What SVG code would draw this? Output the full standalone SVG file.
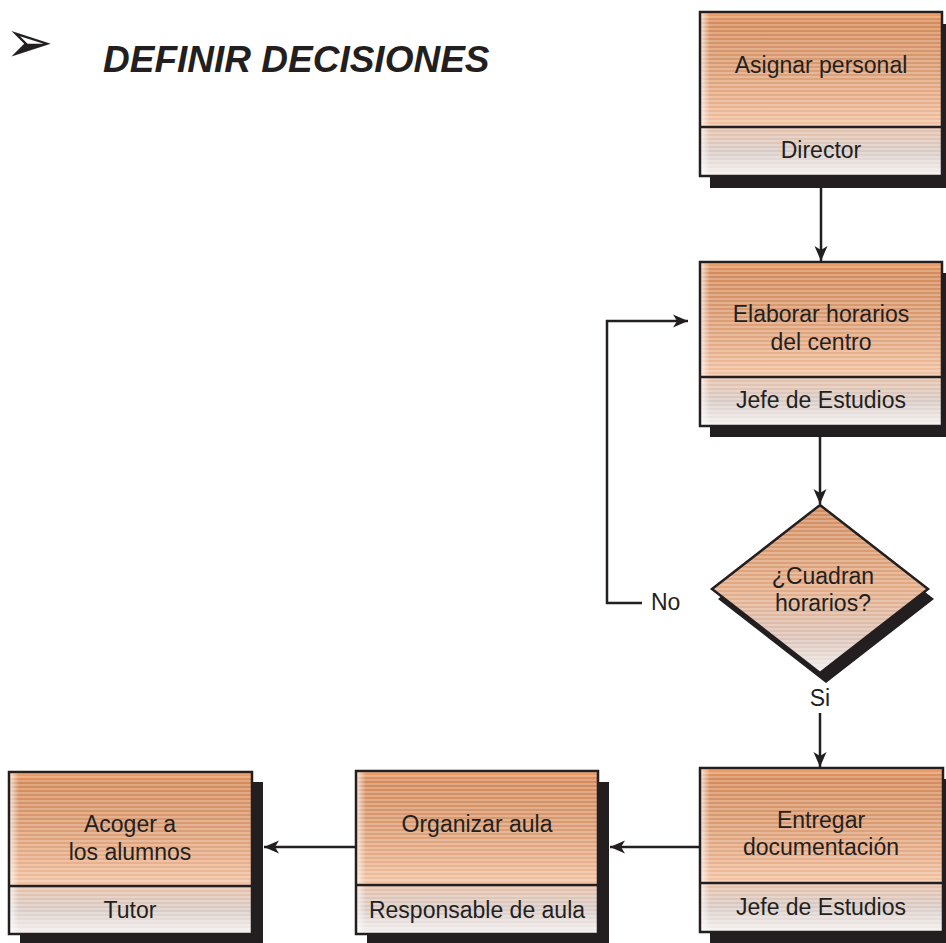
<svg xmlns="http://www.w3.org/2000/svg" width="946" height="943" viewBox="0 0 946 943">
<defs>
<style>
.txt{font-family:"Liberation Sans",Arial,sans-serif;font-size:23px;fill:#231f20;text-anchor:middle}
.lbl{font-family:"Liberation Sans",Arial,sans-serif;font-size:23px;fill:#231f20}
.title{font-family:"Liberation Sans",Arial,sans-serif;font-size:37px;font-weight:bold;font-style:italic;fill:#231f20}
.shadow{fill:#231f20}
.border{fill:none;stroke:#231f20;stroke-width:2.5}
.div{stroke:#231f20;stroke-width:2.5}
.conn{fill:none;stroke:#231f20;stroke-width:2.5}
</style>
<linearGradient id="gTop" x1="0" y1="0" x2="0" y2="1">
<stop offset="0" stop-color="#f7a56a"/>
<stop offset="0.08" stop-color="#d48a5a"/>
<stop offset="0.45" stop-color="#d99a70"/>
<stop offset="0.8" stop-color="#e8b08c"/>
<stop offset="1" stop-color="#f3c5a6"/>
</linearGradient>
<linearGradient id="gBot" x1="0" y1="0" x2="0" y2="1">
<stop offset="0" stop-color="#e6c0a8"/>
<stop offset="0.5" stop-color="#d8cbc6"/>
<stop offset="1" stop-color="#f6f2f0"/>
</linearGradient>
<linearGradient id="gLeft" x1="0" y1="0" x2="1" y2="0">
<stop offset="0" stop-color="#ffffff" stop-opacity="0.75"/>
<stop offset="1" stop-color="#ffffff" stop-opacity="0"/>
</linearGradient>
<linearGradient id="gDia" x1="0" y1="0" x2="0" y2="1">
<stop offset="0" stop-color="#d08a5c"/>
<stop offset="0.5" stop-color="#e2ab86"/>
<stop offset="0.8" stop-color="#dcc4b8"/>
<stop offset="1" stop-color="#f2f0ee"/>
</linearGradient>
<pattern id="stripes" width="4" height="4" patternUnits="userSpaceOnUse">
<rect x="0" y="0" width="4" height="2" fill="#ffffff" fill-opacity="0.25"/>
</pattern>
<marker id="arr" markerWidth="16" markerHeight="14" refX="15" refY="7" orient="auto" markerUnits="userSpaceOnUse">
<path d="M15,7 L0,0.5 L4,7 L0,13.5 Z" fill="#231f20"/>
</marker>
</defs>

<g id="title">
<text x="5" y="62" style="font-family:'DejaVu Sans',sans-serif;font-size:58px;fill:#231f20">➢</text>
<text x="103" y="72" class="title">DEFINIR DECISIONES</text>
</g>

<g id="connectors">
<line x1="821" y1="188" x2="821" y2="261" class="conn" marker-end="url(#arr)"/>
<line x1="820" y1="437" x2="820" y2="504" class="conn" marker-end="url(#arr)"/>
<line x1="820" y1="713" x2="820" y2="767" class="conn" marker-end="url(#arr)"/>
<line x1="700" y1="847" x2="610" y2="847" class="conn" marker-end="url(#arr)"/>
<line x1="356" y1="847" x2="264" y2="847" class="conn" marker-end="url(#arr)"/>
<polyline points="642,603 607,603 607,321 688,321" class="conn" marker-end="url(#arr)"/>
<text x="651" y="610" class="lbl">No</text>
<text x="820" y="706" class="txt">Si</text>
</g>

<g id="asignar" transform="translate(700,12)">
<rect x="10" y="12" width="242" height="164" class="shadow"/>
<rect x="0" y="0" width="242" height="115" fill="url(#gTop)"/>
<rect x="0" y="115" width="242" height="49" fill="url(#gBot)"/>
<rect x="0" y="0" width="242" height="164" fill="url(#stripes)"/>
<rect x="0" y="0" width="10" height="164" fill="url(#gLeft)"/>
<rect x="0" y="0" width="242" height="164" class="border"/>
<line x1="0" y1="115" x2="242" y2="115" class="div"/>
<text x="121" y="61" class="txt">Asignar personal</text>
<text x="121" y="146" class="txt">Director</text>
</g>

<g id="elaborar" transform="translate(700,262)">
<rect x="10" y="11" width="242" height="164" class="shadow"/>
<rect x="0" y="0" width="242" height="115" fill="url(#gTop)"/>
<rect x="0" y="115" width="242" height="49" fill="url(#gBot)"/>
<rect x="0" y="0" width="242" height="164" fill="url(#stripes)"/>
<rect x="0" y="0" width="10" height="164" fill="url(#gLeft)"/>
<rect x="0" y="0" width="242" height="164" class="border"/>
<line x1="0" y1="115" x2="242" y2="115" class="div"/>
<text x="121" y="60" class="txt">Elaborar horarios</text>
<text x="121" y="88" class="txt">del centro</text>
<text x="121" y="146" class="txt">Jefe de Estudios</text>
</g>

<g id="cuadran">
<polygon points="826,515 934,599 826,683 718,599" class="shadow"/>
<polygon points="820,505 928,589 820,673 712,589" fill="url(#gDia)"/>
<polygon points="820,505 928,589 820,673 712,589" fill="url(#stripes)"/>
<polygon points="820,505 928,589 820,673 712,589" class="border"/>
<text x="823" y="584" class="txt">¿Cuadran</text>
<text x="823" y="611" class="txt">horarios?</text>
</g>

<g id="entregar" transform="translate(700,768)">
<rect x="10" y="11" width="243" height="164" class="shadow"/>
<rect x="0" y="0" width="243" height="115" fill="url(#gTop)"/>
<rect x="0" y="115" width="243" height="49" fill="url(#gBot)"/>
<rect x="0" y="0" width="243" height="164" fill="url(#stripes)"/>
<rect x="0" y="0" width="10" height="164" fill="url(#gLeft)"/>
<rect x="0" y="0" width="243" height="164" class="border"/>
<line x1="0" y1="115" x2="243" y2="115" class="div"/>
<text x="121" y="60" class="txt">Entregar</text>
<text x="121" y="87" class="txt">documentación</text>
<text x="121" y="147" class="txt">Jefe de Estudios</text>
</g>

<g id="organizar" transform="translate(356,771)">
<rect x="11" y="11" width="242" height="163" class="shadow"/>
<rect x="0" y="0" width="242" height="114" fill="url(#gTop)"/>
<rect x="0" y="114" width="242" height="49" fill="url(#gBot)"/>
<rect x="0" y="0" width="242" height="163" fill="url(#stripes)"/>
<rect x="0" y="0" width="10" height="163" fill="url(#gLeft)"/>
<rect x="0" y="0" width="242" height="163" class="border"/>
<line x1="0" y1="114" x2="242" y2="114" class="div"/>
<text x="121" y="61" class="txt">Organizar aula</text>
<text x="121" y="147" class="txt">Responsable de aula</text>
</g>

<g id="acoger" transform="translate(9,772)">
<rect x="11" y="10" width="243" height="162" class="shadow"/>
<rect x="0" y="0" width="243" height="114" fill="url(#gTop)"/>
<rect x="0" y="114" width="243" height="48" fill="url(#gBot)"/>
<rect x="0" y="0" width="243" height="162" fill="url(#stripes)"/>
<rect x="0" y="0" width="10" height="162" fill="url(#gLeft)"/>
<rect x="0" y="0" width="243" height="162" class="border"/>
<line x1="0" y1="114" x2="243" y2="114" class="div"/>
<text x="121" y="60" class="txt">Acoger a</text>
<text x="121" y="88" class="txt">los alumnos</text>
<text x="121" y="146" class="txt">Tutor</text>
</g>
</svg>
